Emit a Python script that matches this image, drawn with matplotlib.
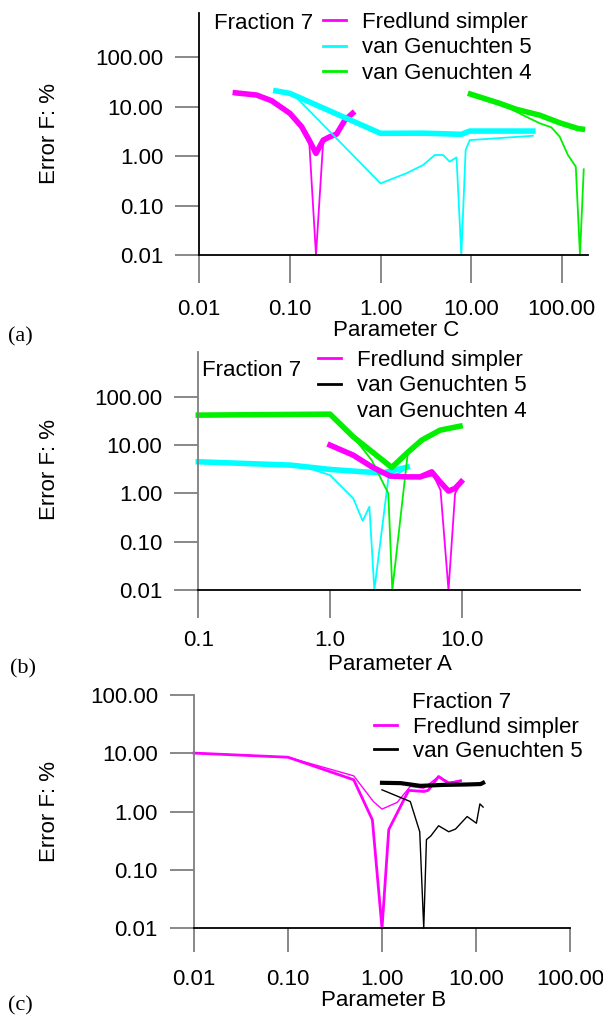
import matplotlib
matplotlib.use("Agg")
import matplotlib.pyplot as plt
from matplotlib.lines import Line2D
from matplotlib.ticker import NullLocator

# ---------------- data ----------------
# Panel (a): Parameter C
a_fred_thick_x = [0.025, 0.043, 0.063, 0.10, 0.135, 0.163, 0.194, 0.233, 0.276, 0.327, 0.404, 0.491]
a_fred_thick_y = [19.0, 17.1, 13.1, 7.3, 3.9, 2.1, 1.13, 2.1, 2.46, 2.78, 5.3, 7.3]
a_fred_thin_x = [0.025, 0.043, 0.063, 0.10, 0.135, 0.163, 0.194, 0.233, 0.276]
a_fred_thin_y = [19.0, 17.1, 13.1, 7.3, 3.9, 2.1, 0.01, 2.0, 2.46]
a_vg5_thick_x = [0.070, 0.10, 1.0, 3.0, 7.8, 9.66, 48.0]
a_vg5_thick_y = [20.8, 18.5, 2.88, 2.9, 2.75, 3.2, 3.2]
a_vg5_thin_x = [0.070, 0.10, 0.115, 1.0, 1.94, 2.96, 3.97, 4.9, 5.8, 6.9, 7.8, 8.7, 9.66, 48.0]
a_vg5_thin_y = [20.8, 18.5, 16.0, 0.28, 0.45, 0.66, 1.05, 1.05, 0.77, 0.94, 0.01, 1.32, 2.1, 2.57]
a_vg4_thick_x = [9.84, 20.7, 31.6, 57.2, 95.0, 151.0, 169.0]
a_vg4_thick_y = [17.9, 11.6, 8.8, 6.7, 4.7, 3.6, 3.5]
a_vg4_thin_x = [9.84, 20.7, 26.7, 40.8, 57.2, 76.9, 95.0, 117.0, 143.0, 159.0, 175.0]
a_vg4_thin_y = [17.9, 11.6, 9.2, 6.2, 4.6, 3.8, 2.46, 1.05, 0.61, 0.01, 0.54]

# Panel (b): Parameter A
b_vg4_thick_x = [0.1, 1.0, 1.5, 2.94, 3.94, 4.97, 6.84, 9.7]
b_vg4_thick_y = [41.8, 43.8, 14.9, 3.45, 7.3, 12.7, 20.4, 24.7]
b_vg4_thin_x = [0.1, 1.0, 1.5, 2.07, 2.77, 2.97, 3.89]
b_vg4_thin_y = [41.8, 43.8, 14.9, 4.9, 1.0, 0.01, 6.7]
b_vg5_thick_x = [0.1, 0.5, 1.0, 1.79, 2.54, 3.86]
b_vg5_thick_y = [4.52, 3.86, 3.14, 2.8, 2.68, 3.5]
b_vg5_thin_x = [0.1, 0.5, 0.63, 1.0, 1.5, 1.77, 1.99, 2.17, 2.77, 3.86]
b_vg5_thin_y = [4.52, 3.86, 3.6, 2.39, 0.79, 0.27, 0.53, 0.01, 2.04, 3.29]
b_fred_thick_x = [1.0, 1.5, 2.07, 2.86, 3.86, 4.83, 5.92, 6.84, 7.93, 8.9, 9.9]
b_fred_thick_y = [10.0, 6.2, 3.57, 2.29, 2.2, 2.2, 2.8, 1.74, 1.12, 1.27, 1.74]
b_fred_thin_x = [1.0, 1.5, 2.07, 2.86, 3.86, 4.83, 6.1, 6.9, 7.93, 8.9, 9.9]
b_fred_thin_y = [10.0, 6.2, 3.57, 2.29, 2.2, 2.04, 2.39, 1.17, 0.01, 1.0, 1.74]

# Panel (c): Parameter B
c_fred_thick_x = [0.01, 0.1, 0.5, 0.79, 1.0, 1.18, 1.92, 2.78, 3.1, 4.0, 5.13, 6.84]
c_fred_thick_y = [10.0, 8.5, 3.49, 0.72, 0.01, 0.49, 2.3, 2.2, 2.3, 3.98, 3.0, 3.36]
c_fred_thin_x = [0.01, 0.1, 0.5, 0.81, 1.0, 1.45, 2.0, 2.78, 4.0, 5.13, 6.84]
c_fred_thin_y = [10.0, 8.5, 4.08, 1.48, 1.1, 1.43, 2.69, 2.5, 3.98, 3.18, 3.36]
c_vg5_thick_x = [1.0, 1.58, 2.56, 4.4, 8.0, 11.2, 11.9]
c_vg5_thick_y = [3.1, 3.06, 2.75, 2.85, 2.9, 2.95, 3.1]
c_vg5_thin_x = [1.0, 2.0, 2.52, 2.78, 2.97, 3.3, 4.0, 5.13, 6.05, 8.05, 10.1, 11.0, 11.9]
c_vg5_thin_y = [2.35, 1.48, 0.45, 0.01, 0.33, 0.38, 0.57, 0.45, 0.50, 0.82, 0.63, 1.35, 1.19]

y_ticks = [0.01, 0.1, 1, 10, 100]
y_ticklabels = ["0.01", "0.10", "1.00", "10.00", "100.00"]
ac_x_ticks = [0.01, 0.1, 1, 10, 100]
ac_x_ticklabels = ["0.01", "0.10", "1.00", "10.00", "100.00"]
b_x_ticks = [0.1, 1, 10]
b_x_ticklabels = ["0.1", "1.0", "10.0"]

MAG = "#ff00ff"
CYA = "#00ffff"
GRN = "#00f000"
BLK = "#000000"
FS = 16

plt.rcParams['font.family'] = ['Liberation Sans', 'DejaVu Sans']

W, H = 603, 1018
fig = plt.figure(figsize=(W / 100, H / 100), dpi=100)


def fx(px):
    return px / W


def fy(py):
    return 1 - py / H


def make_axes(left, right, bottom, top, xlim, ylim, xt, xtl, yspine_color, xlen, xpad):
    ax = fig.add_axes([fx(left), fy(bottom), fx(right) - fx(left), fy(top) - fy(bottom)])
    ax.set_xscale('log')
    ax.set_yscale('log')
    ax.set_xlim(*xlim)
    ax.set_ylim(*ylim)
    for s in ['top', 'right']:
        ax.spines[s].set_visible(False)
    ax.spines['bottom'].set_color('black')
    ax.spines['bottom'].set_linewidth(1.3)
    ax.spines['left'].set_color(yspine_color)
    ax.spines['left'].set_linewidth(1.3)
    ax.set_xticks(xt)
    ax.set_xticklabels(xtl)
    ax.set_yticks(y_ticks)
    ax.set_yticklabels(y_ticklabels)
    ax.xaxis.set_minor_locator(NullLocator())
    ax.yaxis.set_minor_locator(NullLocator())
    ax.tick_params(axis='x', direction='out', length=xlen, width=1.3, color='#7f7f7f',
                   pad=xpad, labelsize=FS)
    ax.tick_params(axis='y', direction='out', length=17, width=1.3, color='#7f7f7f',
                   pad=9, labelsize=FS)
    ax.patch.set_alpha(0)
    return ax


def legend(ax, x, y, handles, labels, spacing):
    ax.legend(handles, labels, loc='upper left', bbox_to_anchor=(fx(x), fy(y)),
              bbox_transform=fig.transFigure, frameon=False, fontsize=FS,
              handlelength=1.05, handletextpad=0.7, labelspacing=spacing,
              borderpad=0, borderaxespad=0)


# ---------------- panel (a) ----------------
axa = make_axes(199.3, 588, 255, 12.7, (0.01, 195), (0.01, 790),
                ac_x_ticks, ac_x_ticklabels, 'black', 20, 12)
axa.plot(a_fred_thin_x, a_fred_thin_y, color=MAG, lw=1.3, clip_on=False)
axa.plot(a_fred_thick_x, a_fred_thick_y, color=MAG, lw=4.0, clip_on=False)
axa.plot(a_vg5_thin_x, a_vg5_thin_y, color=CYA, lw=1.3, clip_on=False)
axa.plot(a_vg5_thick_x, a_vg5_thick_y, color=CYA, lw=4.0, clip_on=False)
axa.plot(a_vg4_thin_x, a_vg4_thin_y, color=GRN, lw=1.3, clip_on=False)
axa.plot(a_vg4_thick_x, a_vg4_thick_y, color=GRN, lw=4.0, clip_on=False)
legend(axa, 323, 12,
       [Line2D([], [], color=MAG, lw=2), Line2D([], [], color=CYA, lw=2),
        Line2D([], [], color=GRN, lw=2)],
       ["Fredlund simpler", "van Genuchten 5", "van Genuchten 4"], 0.2)
fig.text(fx(214), fy(23), "Fraction 7", fontsize=FS, ha='left', va='center')
fig.text(fx(49.5), fy(133), "Error F: %", fontsize=FS, rotation=90, ha='center', va='center')
fig.text(fx(396), fy(331), "Parameter C", fontsize=FS, ha='center', va='center')
fig.text(fx(8), fy(337), "(a)", fontsize=FS, ha='left', va='center', family='Liberation Serif')

# ---------------- panel (b) ----------------
axb = make_axes(198.3, 580, 590, 351.7, (0.1, 79), (0.01, 860),
                b_x_ticks, b_x_ticklabels, '#7f7f7f', 20, 9)
axb.plot(b_vg5_thin_x, b_vg5_thin_y, color=CYA, lw=1.3, clip_on=False)
axb.plot(b_vg5_thick_x, b_vg5_thick_y, color=CYA, lw=4.0, clip_on=False)
axb.plot(b_vg4_thin_x, b_vg4_thin_y, color=GRN, lw=1.3, clip_on=False)
axb.plot(b_vg4_thick_x, b_vg4_thick_y, color=GRN, lw=4.0, clip_on=False)
axb.plot(b_fred_thin_x, b_fred_thin_y, color=MAG, lw=1.3, clip_on=False)
axb.plot(b_fred_thick_x, b_fred_thick_y, color=MAG, lw=4.0, clip_on=False)
legend(axb, 318, 350,
       [Line2D([], [], color=MAG, lw=2), Line2D([], [], color=BLK, lw=2),
        Line2D([], [], color='none', lw=2)],
       ["Fredlund simpler", "van Genuchten 5", "van Genuchten 4"], 0.2)
fig.text(fx(202), fy(370), "Fraction 7", fontsize=FS, ha='left', va='center')
fig.text(fx(49.5), fy(470), "Error F: %", fontsize=FS, rotation=90, ha='center', va='center')
fig.text(fx(390), fy(664), "Parameter A", fontsize=FS, ha='center', va='center')
fig.text(fx(10), fy(669), "(b)", fontsize=FS, ha='left', va='center', family='Liberation Serif')

# ---------------- panel (c) ----------------
axc = make_axes(194, 570, 928.3, 694.7, (0.01, 100), (0.01, 100),
                ac_x_ticks, ac_x_ticklabels, '#7f7f7f', 17, 12)
axc.plot(c_fred_thin_x, c_fred_thin_y, color=MAG, lw=1.0, clip_on=False)
axc.plot(c_fred_thick_x, c_fred_thick_y, color=MAG, lw=2.0, clip_on=False)
axc.plot(c_vg5_thin_x, c_vg5_thin_y, color=BLK, lw=1.0, clip_on=False)
axc.plot(c_vg5_thick_x, c_vg5_thick_y, color=BLK, lw=3.0, clip_on=False)
legend(axc, 374, 717,
       [Line2D([], [], color=MAG, lw=2), Line2D([], [], color=BLK, lw=2)],
       ["Fredlund simpler", "van Genuchten 5"], 0.12)
fig.text(fx(412), fy(702), "Fraction 7", fontsize=FS, ha='left', va='center')
fig.text(fx(49.5), fy(811), "Error F: %", fontsize=FS, rotation=90, ha='center', va='center')
fig.text(fx(384), fy(1000), "Parameter B", fontsize=FS, ha='center', va='center')
fig.text(fx(8), fy(1006), "(c)", fontsize=FS, ha='left', va='center', family='Liberation Serif')

fig.savefig("out.png", dpi=100)
